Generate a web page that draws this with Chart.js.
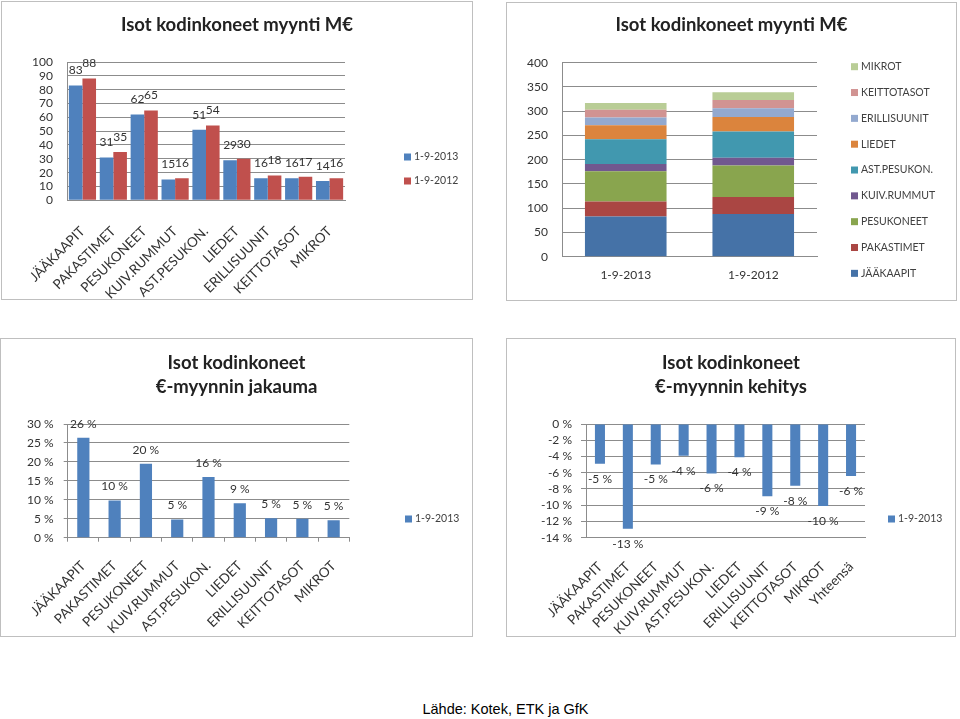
<!DOCTYPE html>
<html>
<head>
<meta charset="utf-8">
<script src="https://cdn.jsdelivr.net/npm/chart.js@4.4.1/dist/chart.umd.min.js"></script>
<style>
    body { margin: 0; width: 960px; height: 719px; position: relative; overflow: hidden; background: #fff; }
    .box { position: absolute; border: 1px solid #bfbfbf; background: #fff; }
    .box canvas { display: block; }
    #source { position: absolute; left: 380px; width: 251px; top: 701px; line-height: 18px; text-align: center;
              font: 14.5px "Liberation Sans", Arial, sans-serif; color: #000; }
</style>
</head>
<body>
<div class="box" style="left:1px;top:1px;"><canvas id="salesChart" width="470" height="297"></canvas></div>
<div class="box" style="left:506px;top:2px;"><canvas id="stackChart" width="449" height="297"></canvas></div>
<div class="box" style="left:0px;top:338px;"><canvas id="shareChart" width="471" height="297"></canvas></div>
<div class="box" style="left:506px;top:338px;"><canvas id="growthChart" width="448" height="297"></canvas></div>
<div id="source">Lähde: Kotek, ETK ja GfK</div>

<script>
// values
const categories = ['JÄÄKAAPIT', 'PAKASTIMET', 'PESUKONEET', 'KUIV.RUMMUT', 'AST.PESUKON.', 'LIEDET', 'ERILLISUUNIT', 'KEITTOTASOT', 'MIKROT'];
const growthCategories = [...categories, 'Yhteensä'];
const periods = ['1-9-2013', '1-9-2012'];
const sales2013 = [83, 31, 62, 15, 51, 29, 16, 16, 14];
const sales2012 = [88, 35, 65, 16, 54, 30, 18, 17, 16];
const share2013 = [26.4, 9.8, 19.5, 4.8, 16.0, 9.1, 5.1, 5.0, 4.6];
const growth2013 = [-4.9, -12.9, -5.0, -3.9, -6.1, -4.1, -8.9, -7.6, -10.1, -6.4];

// axis ranges: [min, max, step]
const salesAxis = [0, 100, 10];
const stackAxis = [0, 400, 50];
const shareAxis = [0, 30, 5];
const growthAxis = [-14, 0, 2];

const blue = '#4f81bd';
const red = '#c0504d';
const stackColors = ['#4572a7', '#aa4643', '#89a54e', '#71588f', '#4198af', '#db843d', '#93a9cf', '#d19392', '#b9cd96'];
const gridColor = '#8c8c8c';
const textColor = '#333333';
const fontFamily = 'Lato, "Open Sans", sans-serif';

Chart.defaults.font.family = fontFamily;
Chart.defaults.color = textColor;

// numbers written at the end of each bar
const valueLabels = {
    id: 'valueLabels',
    defaults: { show: false, offset: 15, size: 12, suffix: '' },
    afterDatasetsDraw(chart, args, opts) {
        if (!opts.show) return;
        const ctx = chart.ctx;
        ctx.save();
        ctx.font = opts.size + 'px ' + fontFamily;
        ctx.fillStyle = textColor;
        ctx.textAlign = 'center';
        ctx.textBaseline = 'middle';
        chart.data.datasets.forEach((ds, i) => {
            chart.getDatasetMeta(i).data.forEach((bar, j) => {
                const v = ds.data[j];
                const y = v < 0 ? bar.y + opts.offset : bar.y - opts.offset;
                ctx.fillText(Math.round(v) + opts.suffix, bar.x, y);
            });
        });
        ctx.restore();
    }
};

// excel-style legend on the right side
const sideLegend = {
    id: 'sideLegend',
    defaults: { show: false, x: 0, y: 0, step: 24, gap: 10, size: 10.5, reverse: false },
    afterDraw(chart, args, opts) {
        if (!opts.show) return;
        const ctx = chart.ctx;
        const items = chart.data.datasets.map(d => ({ text: d.label, color: d.backgroundColor }));
        if (opts.reverse) items.reverse();
        ctx.save();
        ctx.font = opts.size + 'px ' + fontFamily;
        ctx.textBaseline = 'middle';
        ctx.textAlign = 'left';
        items.forEach((it, i) => {
            const y = opts.y + i * opts.step;
            ctx.fillStyle = it.color;
            ctx.fillRect(opts.x, y - 3.5, 7, 7);
            ctx.fillStyle = '#404040';
            ctx.fillText(it.text, opts.x + opts.gap, y);
        });
        ctx.restore();
    }
};

Chart.register(valueLabels, sideLegend);

const titleFont = { size: 18.5, weight: 'bold', family: fontFamily };
const tickFont = { size: 12, family: fontFamily };
const labelFont = { size: 13.5, family: fontFamily };

function valueAxis(range, width, suffix, tickLen, pad) {
    return {
        min: range[0],
        max: range[1],
        ticks: { stepSize: range[2], font: tickFont, color: textColor, padding: pad, autoSkip: false,
                 callback: v => v + suffix },
        grid: { color: gridColor, drawTicks: tickLen > 0, tickLength: tickLen },
        border: { color: gridColor },
        afterFit: s => { s.width = width; }
    };
}

function categoryAxis(height, pad, rotate, tickLen, font) {
    return {
        ticks: { font: font, color: textColor, padding: pad, autoSkip: false,
                 maxRotation: rotate, minRotation: rotate },
        grid: { display: tickLen > 0, drawOnChartArea: false, drawTicks: tickLen > 0, tickLength: tickLen, color: gridColor },
        border: { color: gridColor },
        afterFit: s => { s.height = height; }
    };
}

// empty strip on the right that the legend is drawn into
function legendSpace(width) {
    return {
        type: 'linear', axis: 'y', position: 'right', display: true,
        ticks: { display: false }, grid: { display: false }, border: { display: false },
        afterFit: s => { s.width = width; }
    };
}

// top left: grouped bars
new Chart(document.getElementById('salesChart'), {
    type: 'bar',
    data: {
        labels: categories,
        datasets: [
            { label: periods[0], data: sales2013, backgroundColor: blue, categoryPercentage: 0.88, barPercentage: 1 },
            { label: periods[1], data: sales2012, backgroundColor: red, categoryPercentage: 0.88, barPercentage: 1 }
        ]
    },
    options: {
        responsive: false,
        animation: false,
        layout: { padding: 0 },
        plugins: {
            legend: { display: false },
            tooltip: { enabled: false },
            title: { display: true, text: 'Isot kodinkoneet myynti M€', font: titleFont, color: '#222',
                     padding: { top: 11.7, bottom: 26.1 } },
            valueLabels: { show: true, offset: 15, size: 12 },
            sideLegend: { show: true, x: 402, y: 155, step: 24 }
        },
        scales: {
            x: categoryAxis(98.7, 23, 45, 0, labelFont),
            y: valueAxis(salesAxis, 65, '', 0, 14),
            legendSpace: legendSpace(127)
        }
    }
});

// top right: stacked bars per period
new Chart(document.getElementById('stackChart'), {
    type: 'bar',
    data: {
        labels: periods,
        datasets: categories.map((c, i) => ({
            label: c,
            data: [sales2013[i], sales2012[i]],
            backgroundColor: stackColors[i],
            barPercentage: 0.64,
            categoryPercentage: 1
        }))
    },
    options: {
        responsive: false,
        animation: false,
        layout: { padding: 0 },
        plugins: {
            legend: { display: false },
            tooltip: { enabled: false },
            title: { display: true, text: 'Isot kodinkoneet myynti M€', font: titleFont, color: '#222',
                     padding: { top: 10.9, bottom: 26.6 } },
            sideLegend: { show: true, x: 344, y: 63.7, step: 25.83, reverse: true }
        },
        scales: {
            x: Object.assign(categoryAxis(43.3, 11, 0, 0, tickFont), { stacked: true }),
            y: Object.assign(valueAxis(stackAxis, 55, '', 0, 14), { stacked: true }),
            legendSpace: legendSpace(139)
        }
    }
});

// bottom left: share of sales
new Chart(document.getElementById('shareChart'), {
    type: 'bar',
    data: {
        labels: categories,
        datasets: [
            { label: periods[0], data: share2013, backgroundColor: blue, categoryPercentage: 1, barPercentage: 0.39 }
        ]
    },
    options: {
        responsive: false,
        animation: false,
        layout: { padding: 0 },
        plugins: {
            legend: { display: false },
            tooltip: { enabled: false },
            title: { display: true, text: ['Isot kodinkoneet', '€-myynnin jakauma'], font: Object.assign({ lineHeight: 1.3 }, titleFont),
                     color: '#222', padding: { top: 11.7, bottom: 25.2 } },
            valueLabels: { show: true, offset: 14, size: 12, suffix: ' %' },
            sideLegend: { show: true, x: 404, y: 180 }
        },
        scales: {
            x: categoryAxis(98.3, 16, 45, 4, labelFont),
            y: valueAxis(shareAxis, 66.7, ' %', 4, 10),
            legendSpace: legendSpace(122.7)
        }
    }
});

// bottom right: change of sales
new Chart(document.getElementById('growthChart'), {
    type: 'bar',
    data: {
        labels: growthCategories,
        datasets: [
            { label: periods[0], data: growth2013, backgroundColor: blue, categoryPercentage: 1, barPercentage: 0.36 }
        ]
    },
    options: {
        responsive: false,
        animation: false,
        layout: { padding: 0 },
        plugins: {
            legend: { display: false },
            tooltip: { enabled: false },
            title: { display: true, text: ['Isot kodinkoneet', '€-myynnin kehitys'], font: Object.assign({ lineHeight: 1.3 }, titleFont),
                     color: '#222', padding: { top: 11.7, bottom: 25.2 } },
            valueLabels: { show: true, offset: 15, size: 12, suffix: ' %' },
            sideLegend: { show: true, x: 381, y: 180 }
        },
        scales: {
            x: categoryAxis(98.3, 21, 45, 0, labelFont),
            y: valueAxis(growthAxis, 79, ' %', 5, 9),
            legendSpace: legendSpace(90)
        }
    }
});
</script>
</body>
</html>
